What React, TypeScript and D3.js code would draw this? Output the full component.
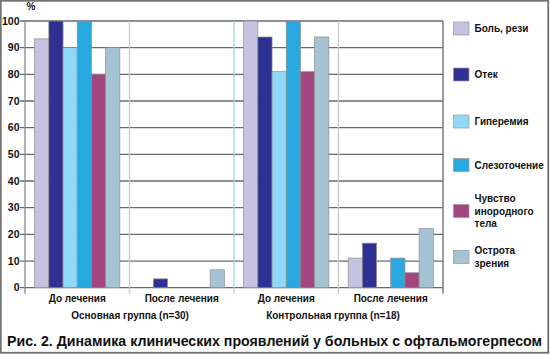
import React from "react";
import * as d3 from "d3";

const categories = ["До лечения", "После лечения", "До лечения", "После лечения"];
const groups = ["Основная группа (n=30)", "Контрольная группа (n=18)"];
const seriesNames = ["Боль, рези", "Отек", "Гиперемия", "Слезоточение", "Чувство инородного тела", "Острота зрения"];
const seriesColors = ["#c6c3e1", "#2e3191", "#8fd8f6", "#29a9e1", "#a3457f", "#a6c3d3"];
const legendLines = [["Боль, рези"], ["Отек"], ["Гиперемия"], ["Слезоточение"], ["Чувство", "инородного", "тела"], ["Острота", "зрения"]];
// values[category][series]
const values = [
  [93.3, 100, 90, 100, 80, 90],
  [0, 3.3, 0, 0, 0, 6.7],
  [100, 94, 81, 100, 81, 94],
  [11.1, 16.7, 0, 11.1, 5.6, 22.2],
];
const yTicks = [0, 10, 20, 30, 40, 50, 60, 70, 80, 90, 100];
const title = "Рис. 2. Динамика клинических проявлений у больных с офтальмогерпесом";

export default function App() {
  const W = 550, H = 355;
  const left = 25, right = 443, top = 21, bottom = 287.7;
  const y = d3.scaleLinear().domain([0, 100]).range([bottom, top]);
  const x = d3.scaleBand<number>().domain(d3.range(categories.length)).range([left, right]).padding(0);
  const xs = d3.scaleBand<number>().domain(d3.range(seriesNames.length)).range([0, x.bandwidth()]).paddingInner(0).paddingOuter(0.68);
  const font = "'Liberation Sans', Arial, sans-serif";
  const sepColors = ["#c8c8c8", "#a9cfe6", "#c8c8c8"];
  const legendY = [28.5, 74.5, 121.5, 165, 211, 257];
  return (
    <svg width={W} height={H} style={{ position: "absolute", left: 0, top: 0, display: "block" }} fontFamily={font}>
      <rect x={0} y={0} width={W} height={H} fill="#fff" />
      {/* gridlines */}
      {yTicks.map((t) => (
        <line key={"g" + t} x1={left - 5} x2={right} y1={y(t)} y2={y(t)} stroke="#6a6a6a" strokeWidth={1.3} />
      ))}
      {/* vertical separators */}
      {[1, 2, 3].map((i) => (
        <line key={"s" + i} x1={x(i)!} x2={x(i)!} y1={top} y2={bottom + 6} stroke={sepColors[i - 1]} strokeWidth={1.3} />
      ))}
      <line x1={left} x2={left} y1={top} y2={bottom + 6} stroke="#8a8a8a" strokeWidth={1.3} />
      <line x1={right} x2={right} y1={top} y2={bottom + 6} stroke="#6a6a6a" strokeWidth={1.3} />
      {/* bars */}
      {values.map((row, ci) =>
        row.map((v, si) =>
          v > 0 ? (
            <rect
              key={ci + "-" + si}
              x={x(ci)! + xs(si)!}
              y={y(v)}
              width={xs.bandwidth()}
              height={y(0) - y(v)}
              fill={seriesColors[si]}
              stroke="#8c8c8c"
              strokeWidth={0.7}
            />
          ) : null
        )
      )}
      {/* y tick labels */}
      {yTicks.map((t) => (
        <text key={"t" + t} x={left - 5.5} y={y(t)} dy="0.35em" textAnchor="end" fontSize={10.5} fontWeight="bold" fill="#111">
          {t}
        </text>
      ))}
      <text x={31} y={10} textAnchor="middle" fontSize={10} fontWeight="bold" fill="#111">%</text>
      {/* category labels */}
      {categories.map((c, i) => (
        <text key={"c" + i} x={x(i)! + x.bandwidth() / 2} y={302} textAnchor="middle" fontSize={10} fontWeight="bold" fill="#111">
          {c}
        </text>
      ))}
      {groups.map((g, i) => (
        <text key={"gr" + i} x={i === 0 ? 130 : 333} y={318.5} textAnchor="middle" fontSize={10} fontWeight="bold" fill="#111">
          {g}
        </text>
      ))}
      {/* legend */}
      {legendLines.map((lines, i) => {
        const cy = legendY[i];
        const n = lines.length;
        const lh = 12.5;
        return (
          <g key={"l" + i}>
            <rect x={453.5} y={cy - 6.5} width={15.5} height={13} fill={seriesColors[i]} stroke="#9a9a9a" strokeWidth={0.7} />
            {lines.map((ln, j) => (
              <text key={j} x={474.5} y={cy + (j - (n - 1) / 2) * lh} dy="0.35em" fontSize={10} fontWeight="bold" fill="#111">
                {ln}
              </text>
            ))}
          </g>
        );
      })}
      {/* title */}
      <text x={7} y={345.5} fontSize={14} fontWeight="bold" fill="#111" textLength={535} lengthAdjust="spacingAndGlyphs">
        {title}
      </text>
      {/* frame */}
      <rect x={0.75} y={0.75} width={W - 2.5} height={H - 3} fill="none" stroke="#707070" strokeWidth={1.8} />
    </svg>
  );
}
